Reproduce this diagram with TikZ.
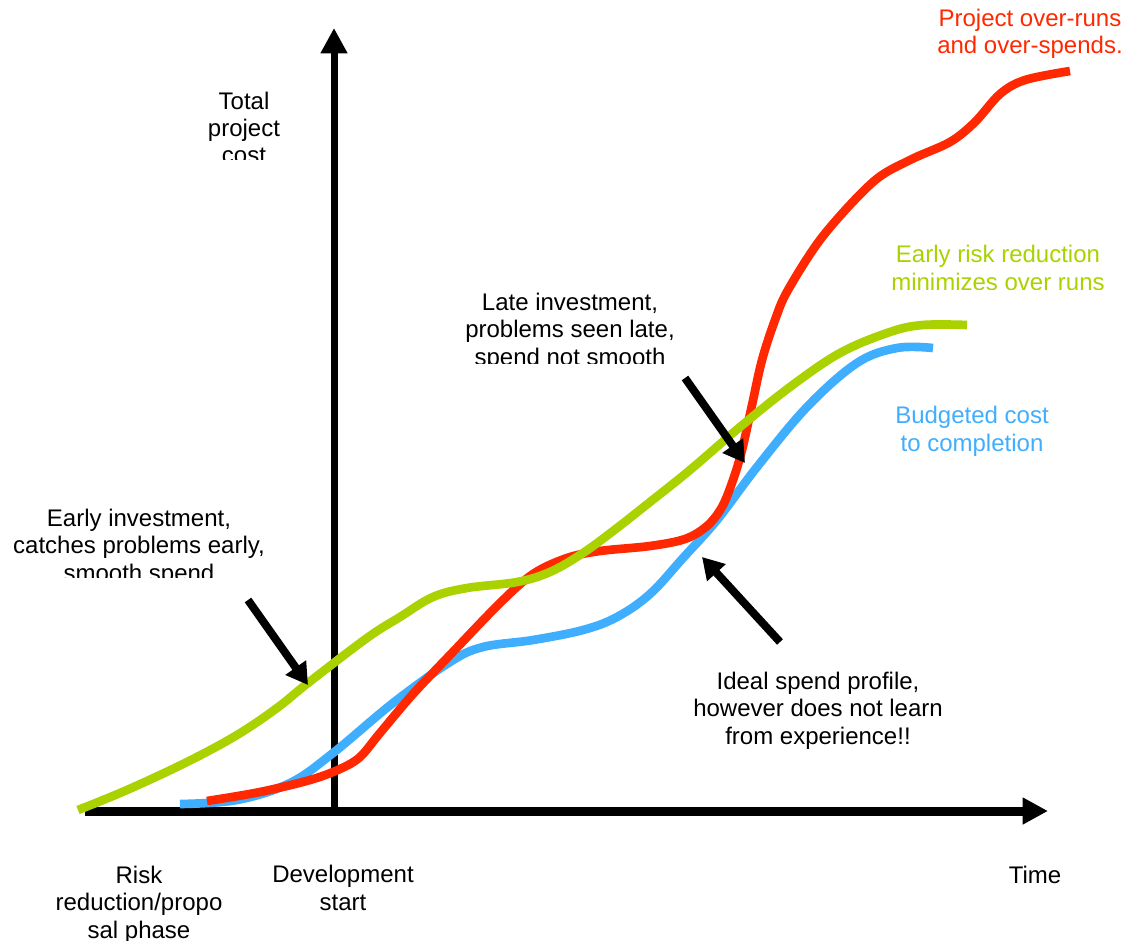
\documentclass[tikz,border=0pt]{standalone}
\usepackage{fontspec}
\setmainfont{Liberation Sans}
\usepackage{xcolor}
\usepackage{tikz}
\usetikzlibrary{arrows.meta}
\definecolor{overred}{RGB}{255,40,0}
\definecolor{riskgreen}{RGB}{170,210,0}
\definecolor{budgetblue}{RGB}{64,174,255}
\tikzset{
  axis/.style={black, -{Triangle[length=19pt,width=19pt]}},
  pointer/.style={black, line width=6pt, -{Triangle[length=16pt,width=18pt]}},
  costcurve/.style={line width=6.5pt},
  lbl/.style={align=center, inner sep=0pt, anchor=base, font=\fontsize{18}{20.6}\selectfont},
}

\begin{document}
\begin{tikzpicture}[x=.75pt, y=-.75pt]
\useasboundingbox (0,0) rectangle (1127,941);
% axes
\coordinate (origin) at (334,813);
\coordinate (xstart) at (85,811);
\coordinate (xend) at (1048,811);
\coordinate (ytop) at (334,28);
\draw[axis, line width=6.75pt] (xstart) -- (xend);
\draw[axis, line width=5.25pt] (origin) -- (ytop);
% budgeted cost
\draw[costcurve, budgetblue] plot[smooth, tension=.6] coordinates {(180,804) (237,800) (290,783) (333,753) (393,703) (450,662) (483,647) (533,640) (583,630) (617,617) (650,594) (683,558) (717,520) (757,467) (807,407) (857,363) (897,348) (933,348)};
% over-run
\draw[costcurve, overred] plot[smooth, tension=.55] coordinates {(207,801) (260,792) (310,780) (340,769) (360,757) (380,733) (413,694) (450,655) (500,603) (533,574) (567,558) (600,551) (650,546) (685,539) (707,526) (722,507) (733,480) (742,450) (752,405) (762,360) (775,320) (788,290) (823,236) (873,182) (910,160) (950,142) (975,122) (1000,94) (1025,80) (1070,71)};
% early risk reduction
\draw[costcurve, riskgreen] plot[smooth, tension=.6] coordinates {(78,810) (127,790) (187,762) (237,735) (277,708) (308,683) (367,638) (400,617) (433,597) (467,588) (517,582) (550,572) (583,553) (617,528) (650,502) (690,470) (740,427) (790,387) (840,353) (890,332) (923,325) (967,325)};
% pointers
\coordinate (earlytail) at (248,600);
\coordinate (earlytip) at (308,685);
\coordinate (latetail) at (685,378);
\coordinate (latetip) at (745,463);
\coordinate (idealtail) at (780,642);
\coordinate (idealtip) at (702,557);
\draw[pointer] (earlytail) -- (earlytip);
\draw[pointer] (latetail) -- (latetip);
\draw[pointer] (idealtail) -- (idealtip);
% labels
\begin{scope}
\clip (150,60) rectangle (320,160);
\node[lbl] (costlbl) at (244,164) {Total\\project\\cost};
\end{scope}
\begin{scope}
\clip (860,230) rectangle (1127,289);
\node[lbl, riskgreen] (risklbl) at (998,290) {Early risk reduction\\minimizes over runs};
\end{scope}
\begin{scope}
\clip (430,280) rectangle (720,363);
\node[lbl] (latelbl) at (570,365) {Late investment,\\problems seen late,\\spend not smooth};
\end{scope}
\begin{scope}
\clip (0,490) rectangle (300,577);
\node[lbl] (earlylbl) at (139,581) {Early investment,\\catches problems early,\\smooth spend};
\end{scope}
\node[lbl, overred] (overlbl) at (1030,54) {Project over-runs\\and over-spends.};
\node[lbl, budgetblue] (budgetlbl) at (972,451) {Budgeted cost\\to completion};
\node[lbl] (ideallbl) at (818,744) {Ideal spend profile,\\however does not learn\\from experience!!};
\node[lbl] (phaselbl) at (139,938) {Risk\\reduction/propo\\sal phase};
\node[lbl] (devlbl) at (343,910) {Development\\start};
\node[lbl] (timelbl) at (1035,883) {Time};
\end{tikzpicture}
\end{document}
